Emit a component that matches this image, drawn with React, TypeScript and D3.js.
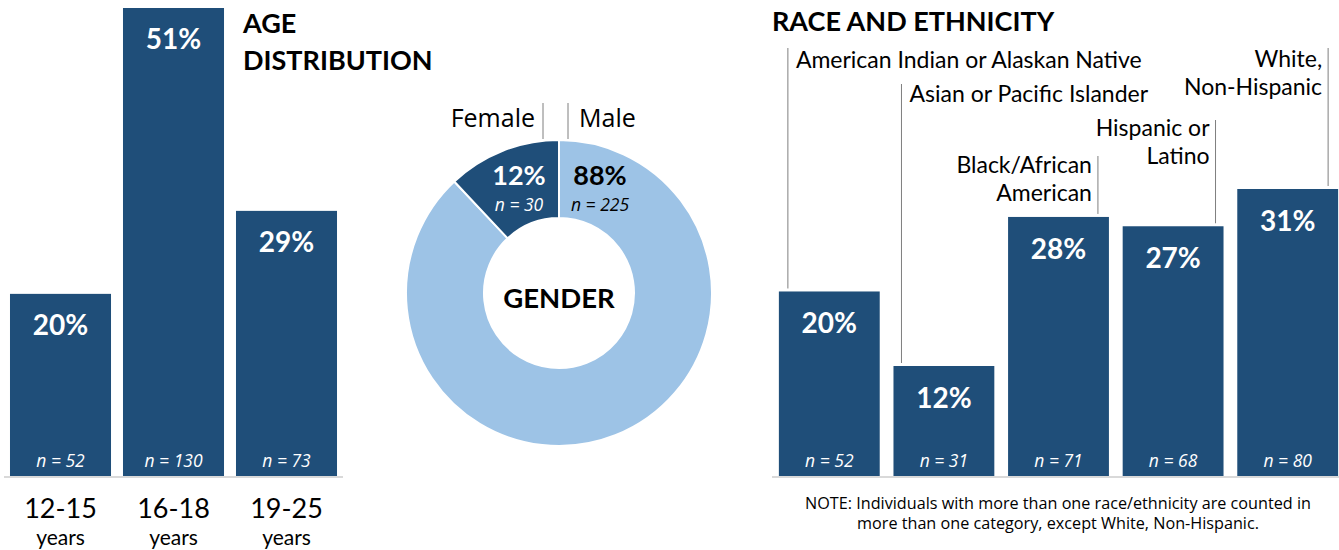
import React from "react";
import * as d3 from "d3";

const ageCategories = ["12-15", "16-18", "19-25"];
const ageValues = [20, 51, 29];
const ageCounts = [52, 130, 73];

const genderCategories = ["Male", "Female"];
const genderValues = [88, 12];
const genderCounts = [225, 30];

const raceCategories = [
  "American Indian or Alaskan Native",
  "Asian or Pacific Islander",
  "Black/African American",
  "Hispanic or Latino",
  "White, Non-Hispanic",
];
const raceLabelLines = [
  ["American Indian or Alaskan Native"],
  ["Asian or Pacific Islander"],
  ["Black/African", "American"],
  ["Hispanic or", "Latino"],
  ["White,", "Non-Hispanic"],
];
const raceValues = [20, 12, 28, 27, 31];
const raceCounts = [52, 31, 71, 68, 80];

const DARK = "#1f4e79";
const LIGHT = "#9dc3e6";
const BOLD = "Lato, 'Open Sans', sans-serif";
const REG = "'Open Sans', Lato, sans-serif";

export default function App() {
  const W = 1339;
  const H = 550;
  const baseY = 476;
  const yAge = d3.scaleLinear().domain([0, 51]).range([478.3, 8]);
  const yRace = d3.scaleLinear().domain([0, 31]).range([477.8, 189]);

  const xAge = d3
    .scaleBand<string>()
    .domain(ageCategories)
    .range([4, 343])
    .paddingInner(0.106)
    .paddingOuter(0.053);

  const xRace = d3
    .scaleBand<string>()
    .domain(raceCategories)
    .range([772, 1345])
    .paddingInner(0.12)
    .paddingOuter(0.06);

  const cx = 559;
  const cy = 293;
  const pie = d3
    .pie<number>()
    .sort(null)
    .value((d) => d)
    .startAngle(0)
    .endAngle(2 * Math.PI);
  const arcs = pie(genderValues);
  const arc = d3.arc<d3.PieArcDatum<number>>().innerRadius(75).outerRadius(153);

  const raceLabelCfg = [
    { lineTop: 48, side: "right", textY: 60 },
    { lineTop: 84, side: "right", textY: 94 },
    { lineTop: 156, side: "left", textY: 165 },
    { lineTop: 120, side: "left", textY: 128 },
    { lineTop: 48, side: "left", textY: 59 },
  ];
  const lineOffsets = [9, 8, -11, -8, -10];

  return (
    <svg
      width={W}
      height={H}
      style={{ position: "absolute", left: 0, top: 0, fontFamily: REG }}
    >
      <rect width={W} height={H} fill="#fff" />

      {/* AGE */}
      <text x={243} y={33} fontFamily={BOLD} fontSize={27} fontWeight={700} fill="#000">
        AGE
      </text>
      <text x={243} y={70} fontFamily={BOLD} fontSize={27} fontWeight={700} fill="#000">
        DISTRIBUTION
      </text>
      {ageCategories.map((c, i) => {
        const x0 = xAge(c)!;
        const bw = xAge.bandwidth();
        const top = yAge(ageValues[i]);
        const mid = x0 + bw / 2;
        return (
          <g key={c}>
            <rect x={x0} y={top} width={bw} height={baseY - top} fill={DARK} />
            <text
              x={mid}
              y={top + 41}
              textAnchor="middle"
              fontFamily={BOLD}
              fontSize={28}
              fontWeight={700}
              fill="#fff"
            >
              {ageValues[i]}%
            </text>
            <text
              x={mid}
              y={467}
              textAnchor="middle"
              fontSize={17.5}
              fontStyle="italic"
              fill="#fff"
            >
              n = {ageCounts[i]}
            </text>
            <text x={mid} y={518} textAnchor="middle" fontFamily={BOLD} fontSize={27} fill="#000">
              {c}
            </text>
            <text x={mid} y={545} textAnchor="middle" fontFamily={BOLD} fontSize={21} fill="#000">
              years
            </text>
          </g>
        );
      })}
      <line x1={4} x2={343} y1={baseY + 1} y2={baseY + 1} stroke="#d9d9d9" strokeWidth={2} />

      {/* GENDER */}
      <g transform={`translate(${cx},${cy})`}>
        {arcs.map((a, i) => (
          <path
            key={genderCategories[i]}
            d={arc(a)!}
            fill={i === 0 ? LIGHT : DARK}
            stroke="#fff"
            strokeWidth={2}
          />
        ))}
        <text x={0} y={15} textAnchor="middle" fontFamily={BOLD} fontSize={27.5} fontWeight={700} fill="#000">
          GENDER
        </text>
        <text x={-40} y={-108} textAnchor="middle" fontFamily={BOLD} fontSize={27} fontWeight={700} fill="#fff">
          {genderValues[1]}%
        </text>
        <text x={-40} y={-82} textAnchor="middle" fontSize={17.5} fontStyle="italic" fill="#fff">
          n = {genderCounts[1]}
        </text>
        <text x={41} y={-108} textAnchor="middle" fontFamily={BOLD} fontSize={27} fontWeight={700} fill="#000">
          {genderValues[0]}%
        </text>
        <text x={41} y={-82} textAnchor="middle" fontSize={17.5} fontStyle="italic" fill="#000">
          n = {genderCounts[0]}
        </text>
        <line x1={-16} x2={-16} y1={-190} y2={-154} stroke="#7f7f7f" strokeWidth={1} />
        <line x1={9} x2={9} y1={-190} y2={-154} stroke="#7f7f7f" strokeWidth={1} />
        <text x={-24} y={-166} textAnchor="end" fontSize={25} fill="#000">
          {genderCategories[1]}
        </text>
        <text x={20} y={-166} textAnchor="start" fontSize={25} fill="#000">
          {genderCategories[0]}
        </text>
      </g>

      {/* RACE */}
      <text x={772} y={31} fontFamily={BOLD} fontSize={27} fontWeight={700} fill="#000">
        RACE AND ETHNICITY
      </text>
      {raceCategories.map((c, i) => {
        const x0 = xRace(c)!;
        const bw = xRace.bandwidth();
        const top = yRace(raceValues[i]);
        const mid = x0 + bw / 2;
        const cfg = raceLabelCfg[i];
        const lx = cfg.side === "right" ? x0 + lineOffsets[i] : x0 + bw + lineOffsets[i];
        const tx = cfg.side === "right" ? lx + 8 : lx - 6;
        return (
          <g key={c}>
            <rect x={x0} y={top} width={bw} height={baseY - top} fill={DARK} />
            <text
              x={mid}
              y={top + 42}
              textAnchor="middle"
              fontFamily={BOLD}
              fontSize={28}
              fontWeight={700}
              fill="#fff"
            >
              {raceValues[i]}%
            </text>
            <text
              x={mid}
              y={467}
              textAnchor="middle"
              fontSize={17.5}
              fontStyle="italic"
              fill="#fff"
            >
              n = {raceCounts[i]}
            </text>
            <line x1={lx} x2={lx} y1={cfg.lineTop} y2={top - 3} stroke="#7f7f7f" strokeWidth={1} />
            {raceLabelLines[i].map((t, k) => (
              <text
                key={k}
                x={tx}
                y={cfg.textY + 8 + k * 27.8}
                textAnchor={cfg.side === "right" ? "start" : "end"}
                fontFamily={BOLD}
                fontSize={23}
                fill="#000"
              >
                {t}
              </text>
            ))}
          </g>
        );
      })}
      <line x1={772} x2={1339} y1={baseY + 1} y2={baseY + 1} stroke="#d9d9d9" strokeWidth={2} />
      <text x={1058} y={509} textAnchor="middle" fontSize={16.2} fill="#000">
        NOTE: Individuals with more than one race/ethnicity are counted in
      </text>
      <text x={1058} y={529} textAnchor="middle" fontSize={16.2} fill="#000">
        more than one category, except White, Non-Hispanic.
      </text>
    </svg>
  );
}
